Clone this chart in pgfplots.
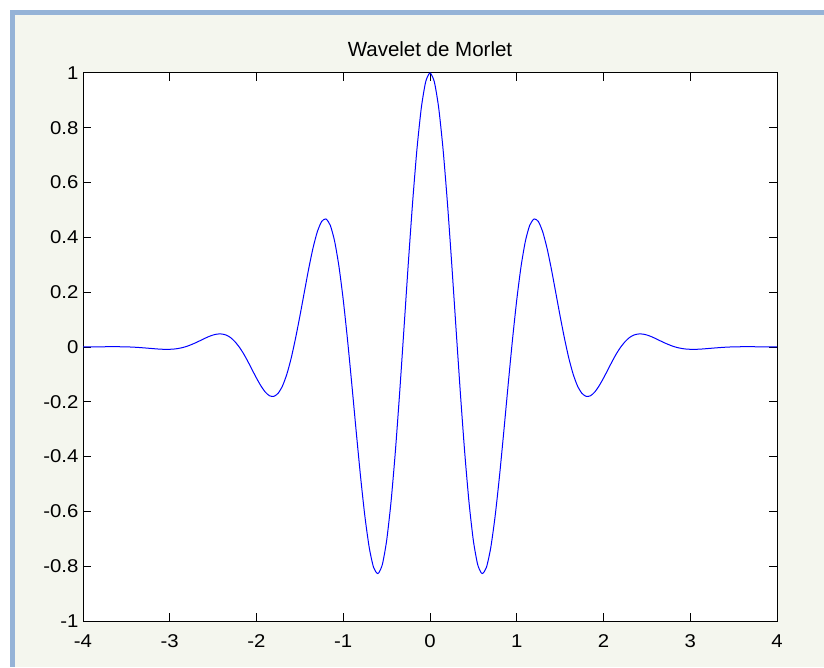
\documentclass[border=0pt]{standalone}
\usepackage{pgfplots}
\pgfplotsset{compat=1.18}
\usepackage{fontspec}
\setmainfont{Liberation Sans}
\newfontfamily\tickfont{Liberation Sans}[FakeStretch=1.1]
\definecolor{bordblue}{RGB}{149,179,215}
\definecolor{bgcol}{RGB}{244,246,238}
\begin{document}
\begin{tikzpicture}[x=1pt,y=1pt]
\path[use as bounding box] (0,0) rectangle (824,667);
\fill[white] (0,0) rectangle (824,667);
\fill[bordblue] (10,0) rectangle (824,657);
\fill[bgcol] (15,0) rectangle (824,652);
\begin{axis}[
  at={(83pt,46pt)}, anchor=south west, scale only axis,
  width=694pt, height=548pt,
  xmin=-4, xmax=4, ymin=-1, ymax=1,
  axis background/.style={fill=white},
  axis line style={black, line width=1pt},
  tick style={black, line width=1pt},
  major tick length=8pt,
  tick align=inside, xtick pos=both, ytick pos=both,
  xtick={-4,-3,-2,-1,0,1,2,3,4},
  xticklabels={-4,-3,-2,-1,0,1,2,3,4},
  ytick={-1,-0.8,-0.6,-0.4,-0.2,0,0.2,0.4,0.6,0.8,1},
  yticklabels={-1,-0.8,-0.6,-0.4,-0.2,0,0.2,0.4,0.6,0.8,1},
  tick label style={font=\tickfont\fontsize{18.5}{21}\selectfont, black},
  xticklabel style={yshift=-10pt},
  yticklabel style={xshift=-1pt},
  title={Wavelet de Morlet},
  title style={font=\fontsize{20.5}{23}\selectfont, at={(0.5,1)}, anchor=south, yshift=7pt},
]
\addplot[blue, line width=1pt, smooth, tension=0.4] coordinates {
(-4.00,0.0001)(-3.95,0.0003)(-3.90,0.0004)(-3.85,0.0006)(-3.80,0.0007)(-3.75,0.0009)(-3.70,0.0010)(-3.65,0.0011)(-3.60,0.0010)(-3.55,0.0008)(-3.50,0.0005)(-3.45,-0.0001)(-3.40,-0.0009)(-3.35,-0.0019)(-3.30,-0.0031)(-3.25,-0.0044)(-3.20,-0.0057)(-3.15,-0.0070)(-3.10,-0.0080)(-3.05,-0.0086)(-3.00,-0.0084)(-2.95,-0.0074)(-2.90,-0.0053)(-2.85,-0.0019)(-2.80,0.0027)(-2.75,0.0089)(-2.70,0.0156)(-2.65,0.0232)(-2.60,0.0309)(-2.55,0.0381)(-2.50,0.0438)(-2.45,0.0473)(-2.40,0.0474)(-2.35,0.0437)(-2.30,0.0347)(-2.25,0.0200)(-2.20,0.0004)(-2.15,-0.0239)(-2.10,-0.0524)(-2.05,-0.0833)(-2.00,-0.1136)(-1.95,-0.1414)(-1.90,-0.1640)(-1.85,-0.1779)(-1.80,-0.1803)(-1.75,-0.1686)(-1.70,-0.1419)(-1.65,-0.0990)(-1.60,-0.0405)(-1.55,0.0318)(-1.50,0.1125)(-1.45,0.1979)(-1.40,0.2829)(-1.35,0.3592)(-1.30,0.4195)(-1.25,0.4577)(-1.20,0.4674)(-1.15,0.4445)(-1.10,0.3870)(-1.05,0.2951)(-1.00,0.1720)(-0.95,0.0239)(-0.90,-0.1406)(-0.85,-0.3108)(-0.80,-0.4746)(-0.75,-0.6194)(-0.70,-0.7330)(-0.65,-0.8048)(-0.60,-0.8269)(-0.55,-0.7946)(-0.50,-0.7070)(-0.45,-0.5677)(-0.40,-0.3842)(-0.35,-0.1677)(-0.30,0.0676)(-0.25,0.3056)(-0.20,0.5296)(-0.15,0.7235)(-0.10,0.8732)(-0.05,0.9677)
(0.00,1.0000)
(0.05,0.9677)(0.10,0.8732)(0.15,0.7235)(0.20,0.5296)(0.25,0.3056)(0.30,0.0676)(0.35,-0.1677)(0.40,-0.3842)(0.45,-0.5677)(0.50,-0.7070)(0.55,-0.7946)(0.60,-0.8269)(0.65,-0.8048)(0.70,-0.7330)(0.75,-0.6194)(0.80,-0.4746)(0.85,-0.3108)(0.90,-0.1406)(0.95,0.0239)(1.00,0.1720)(1.05,0.2951)(1.10,0.3870)(1.15,0.4445)(1.20,0.4674)(1.25,0.4577)(1.30,0.4195)(1.35,0.3592)(1.40,0.2829)(1.45,0.1979)(1.50,0.1125)(1.55,0.0318)(1.60,-0.0405)(1.65,-0.0990)(1.70,-0.1419)(1.75,-0.1686)(1.80,-0.1803)(1.85,-0.1779)(1.90,-0.1640)(1.95,-0.1414)(2.00,-0.1136)(2.05,-0.0833)(2.10,-0.0524)(2.15,-0.0239)(2.20,0.0004)(2.25,0.0200)(2.30,0.0347)(2.35,0.0437)(2.40,0.0474)(2.45,0.0473)(2.50,0.0438)(2.55,0.0381)(2.60,0.0309)(2.65,0.0232)(2.70,0.0156)(2.75,0.0089)(2.80,0.0027)(2.85,-0.0019)(2.90,-0.0053)(2.95,-0.0074)(3.00,-0.0084)(3.05,-0.0086)(3.10,-0.0080)(3.15,-0.0070)(3.20,-0.0057)(3.25,-0.0044)(3.30,-0.0031)(3.35,-0.0019)(3.40,-0.0009)(3.45,-0.0001)(3.50,0.0005)(3.55,0.0008)(3.60,0.0010)(3.65,0.0011)(3.70,0.0010)(3.75,0.0009)(3.80,0.0007)(3.85,0.0006)(3.90,0.0004)(3.95,0.0003)(4.00,0.0001)
};
\end{axis}
\end{tikzpicture}
\end{document}
